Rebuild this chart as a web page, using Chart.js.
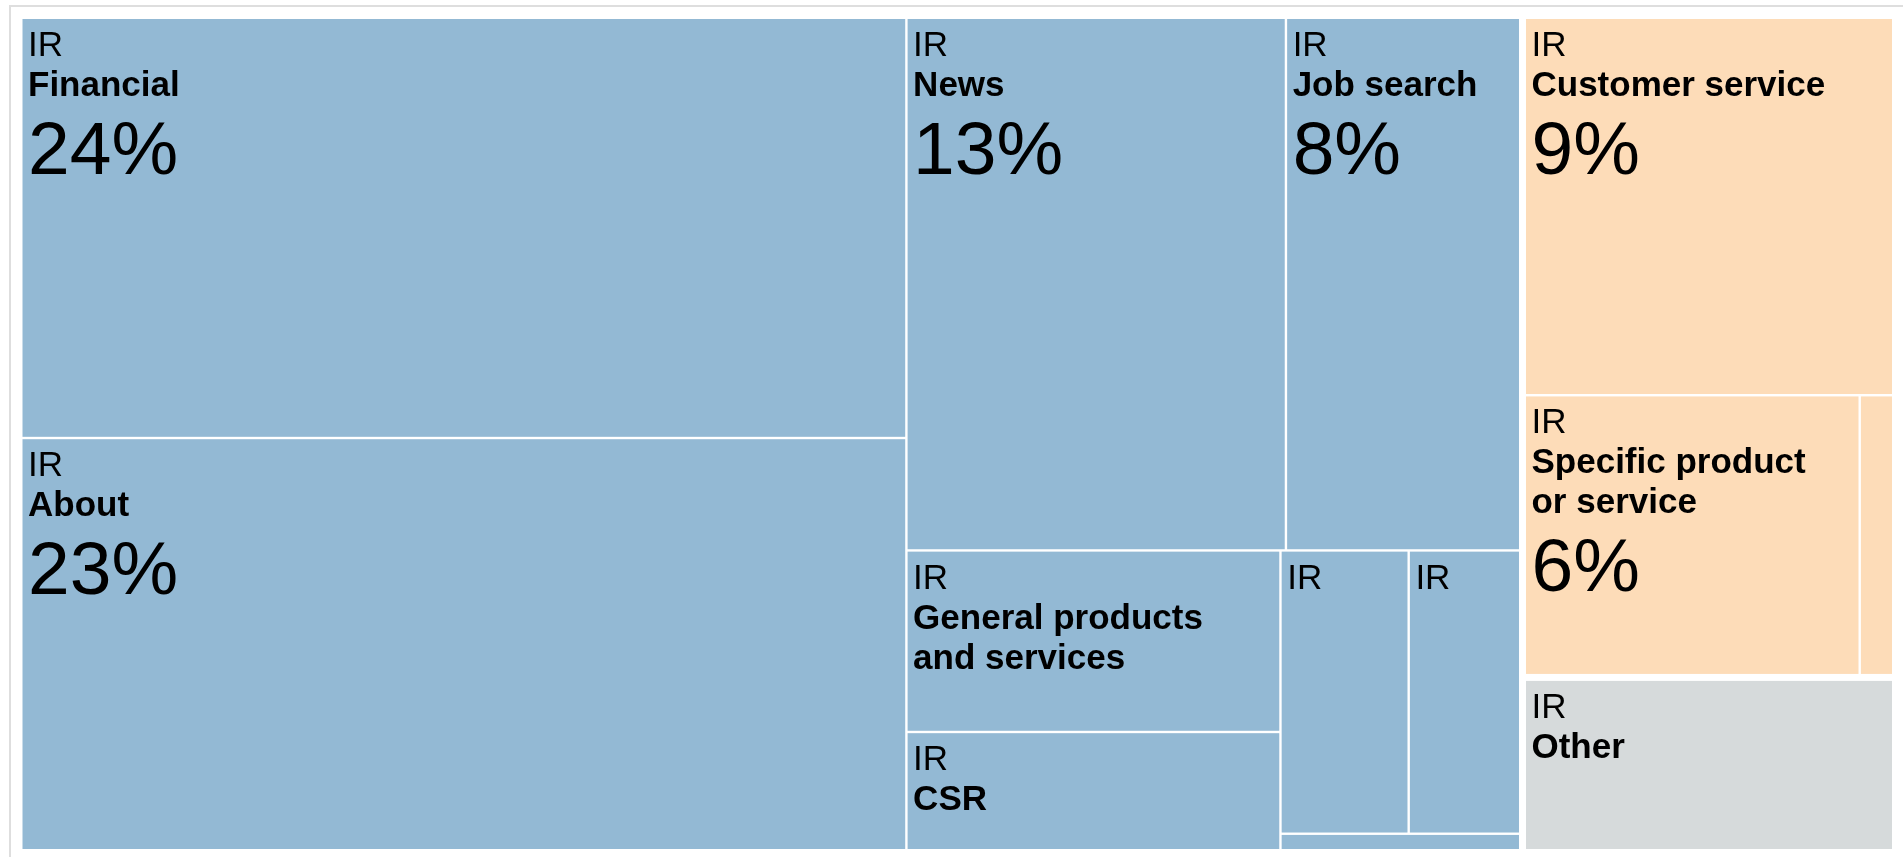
<!DOCTYPE html>
<html>
<head>
<meta charset="utf-8">
<title>IR treemap</title>
<script src="https://cdn.jsdelivr.net/npm/chart.js@4.4.1/dist/chart.umd.min.js"></script>
<style>
    html, body { margin: 0; padding: 0; background: #fff; overflow: hidden; }
    #marco {
        position: absolute; left: 9px; top: 5px;
        width: 2000px; height: 1000px;
        border: 2px solid #dedede;
    }
    #contenedor { position: absolute; left: 0; top: 0; width: 1903px; height: 857px; }
</style>
</head>
<body>
<div id="marco"></div>
<div id="contenedor"><canvas id="mapaChart"></canvas></div>
<script>
// ===== Datos (porcentaje de cada sección) =====
const etiquetaRaiz = 'IR';
const grupos = ['Azul', 'Naranja', 'Gris'];
const coloresGrupo = ['#93b9d4', '#fddcb8', '#d6dadb'];
const grupoSeccion = [0, 0, 0, 0, 0, 0, 0, 0, 0, 1, 1, 1, 2];
const nombresSeccion = [
    'Financial', 'About', 'News', 'Job search', 'General products and services', 'CSR',
    '', '', '',
    'Customer service', 'Specific product or service', '',
    'Other'
];
const valoresSeccion = [23.55, 23.1, 12.8, 7.9, 4.3, 2.8, 2.3, 2.0, 0.25, 8.9, 6.0, 0.6, 4.1];

const FUENTE = "'Liberation Sans', Arial, sans-serif";
const PHI = (1 + Math.sqrt(5)) / 2;
const HUECO_GRUPO = 7;
const HUECO_HOJA = 2.4;

// squarify con proporción áurea (mismo criterio que d3.treemapSquarify)
function squarify(vals, x0, y0, x1, y1) {
    const out = [];
    const n = vals.length;
    let value = vals.reduce((a, b) => a + b, 0);
    let i0 = 0, i1 = 0;
    while (i0 < n) {
        const dx = x1 - x0, dy = y1 - y0;
        let suma = vals[i1++];
        let minV = suma, maxV = suma;
        const alpha = Math.max(dy / dx, dx / dy) / (value * PHI);
        let beta = suma * suma * alpha;
        let minRatio = Math.max(maxV / beta, beta / minV);
        for (; i1 < n; ++i1) {
            const v = vals[i1];
            suma += v;
            if (v < minV) minV = v;
            if (v > maxV) maxV = v;
            beta = suma * suma * alpha;
            const r = Math.max(maxV / beta, beta / minV);
            if (r > minRatio) { suma -= v; break; }
            minRatio = r;
        }
        if (dx < dy) {
            const h = i1 >= n ? dy : dy * suma / value;
            let x = x0;
            for (let i = i0; i < i1; i++) {
                const w = dx * vals[i] / suma;
                out[i] = { x0: x, y0: y0, x1: x + w, y1: y0 + h };
                x += w;
            }
            y0 += h;
        } else {
            const w = i1 >= n ? dx : dx * suma / value;
            let y = y0;
            for (let i = i0; i < i1; i++) {
                const h = dy * vals[i] / suma;
                out[i] = { x0: x0, y0: y, x1: x0 + w, y1: y + h };
                y += h;
            }
            x0 += w;
        }
        value -= suma;
        i0 = i1;
    }
    return out;
}

// separa rectángulos con un hueco g: se expande el contenedor g/2 y se encoge cada hijo g/2
function distribuir(vals, r, g) {
    const h = g / 2;
    return squarify(vals, r.x0 - h, r.y0 - h, r.x1 + h, r.y1 + h)
        .map(c => ({ x0: c.x0 + h, y0: c.y0 + h, x1: c.x1 - h, y1: c.y1 - h }));
}

function partirLineas(ctx, texto, ancho) {
    if (!texto) return [];
    const palabras = texto.split(' ');
    const lineas = [];
    let actual = '';
    for (const p of palabras) {
        const prueba = actual ? actual + ' ' + p : p;
        if (ctx.measureText(prueba).width <= ancho) actual = prueba;
        else {
            if (!actual) return null;
            lineas.push(actual);
            actual = p;
            if (ctx.measureText(p).width > ancho) return null;
        }
    }
    if (actual) lineas.push(actual);
    return lineas;
}

const pluginMapa = {
    id: 'mapaArbol',
    afterDatasetsDraw(chart) {
        const { ctx, scales: { x, y } } = chart;
        const area = {
            x0: x.getPixelForValue(0), x1: x.getPixelForValue(1),
            y0: y.getPixelForValue(1), y1: y.getPixelForValue(0)
        };

        const totalesGrupo = grupos.map((g, gi) =>
            valoresSeccion.reduce((s, v, i) => s + (grupoSeccion[i] === gi ? v : 0), 0));
        const rectGrupos = distribuir(totalesGrupo, area, HUECO_GRUPO);

        ctx.save();
        grupos.forEach((g, gi) => {
            const idx = valoresSeccion.map((v, i) => i).filter(i => grupoSeccion[i] === gi);
            const rects = distribuir(idx.map(i => valoresSeccion[i]), rectGrupos[gi], HUECO_HOJA);

            idx.forEach((i, k) => {
                const r = rects[k];
                const w = r.x1 - r.x0, h = r.y1 - r.y0;
                ctx.fillStyle = coloresGrupo[gi];
                ctx.fillRect(r.x0, r.y0, w, h);

                // etiquetas
                ctx.save();
                ctx.beginPath();
                ctx.rect(r.x0, r.y0, w, h);
                ctx.clip();
                ctx.fillStyle = '#000';
                ctx.textBaseline = 'alphabetic';
                const tx = r.x0 + 5.5;
                const disponible = w - 25;
                let base = r.y0 + 37;

                ctx.font = `35px ${FUENTE}`;
                if (ctx.measureText(etiquetaRaiz).width > w - 8 || base + 4 > r.y1) { ctx.restore(); return; }
                ctx.fillText(etiquetaRaiz, tx, base);

                ctx.font = `bold 35px ${FUENTE}`;
                const lineas = partirLineas(ctx, nombresSeccion[i], disponible);
                if (lineas && lineas.length) {
                    lineas.forEach(l => { base += 40; ctx.fillText(l, tx, base); });
                    if (valoresSeccion[i] >= 5) {
                        base += 78;
                        ctx.font = `75px ${FUENTE}`;
                        ctx.fillText(Math.round(valoresSeccion[i]) + '%', tx, base);
                    }
                }
                ctx.restore();
            });
        });
        ctx.restore();
    }
};

new Chart(document.getElementById('mapaChart'), {
    type: 'scatter',
    data: { datasets: [{ label: 'Secciones', data: [], pointRadius: 0 }] },
    options: {
        responsive: true,
        maintainAspectRatio: false,
        animation: false,
        layout: { padding: { left: 22.5, right: 11, top: 19, bottom: 8 } },
        plugins: { legend: { display: false }, tooltip: { enabled: false } },
        scales: {
            x: { type: 'linear', min: 0, max: 1, display: false },
            y: { type: 'linear', min: 0, max: 1, display: false }
        }
    },
    plugins: [pluginMapa]
});
</script>
</body>
</html>
